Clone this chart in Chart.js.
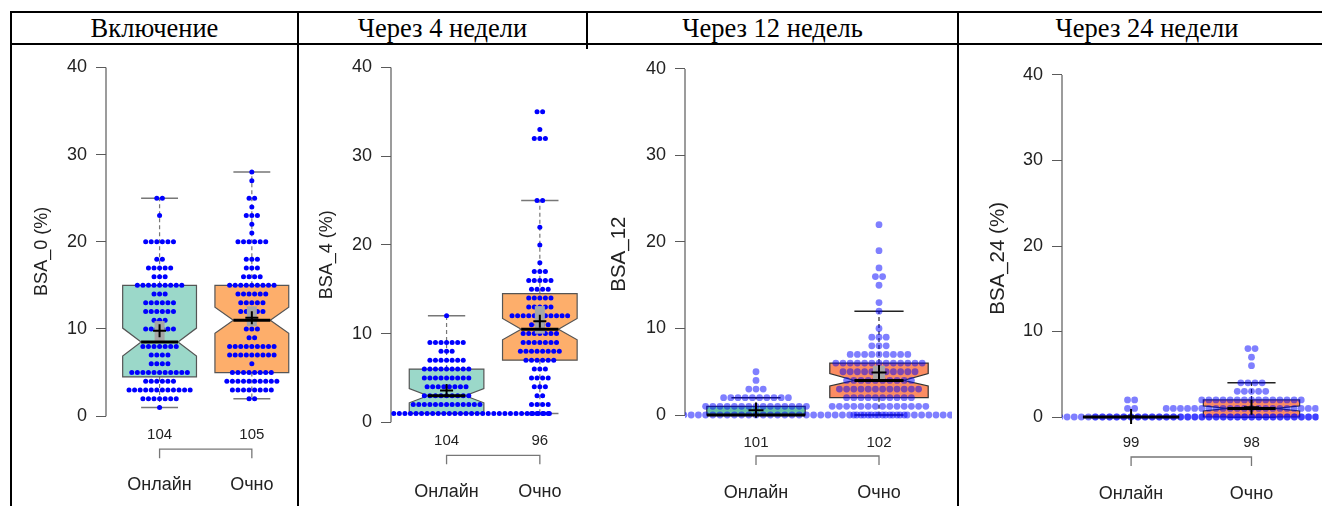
<!DOCTYPE html>
<html>
<head>
<meta charset="utf-8">
<script src="https://cdn.jsdelivr.net/npm/chart.js@4.4.1/dist/chart.umd.min.js"></script>
<style>
    html, body { margin: 0; padding: 0; background: #fff; }
    body { width: 1322px; height: 506px; position: relative; overflow: hidden; }
    .rule { position: absolute; background: #000; z-index: 2; }
    .head {
        position: absolute; top: 13px; height: 30px; line-height: 30px; text-align: center;
        font-family: "Liberation Serif", "Times New Roman", serif; font-size: 26.5px; color: #000;
    }
    canvas { position: absolute; }
</style>
</head>
<body>
<div class="rule" style="left:10px; top:11px; width:1312px; height:2px"></div>
<div class="rule" style="left:10px; top:43px; width:1312px; height:2px"></div>
<div class="rule" style="left:10px; top:11px; width:2px; height:495px"></div>
<div class="rule" style="left:297px; top:11px; width:2px; height:495px"></div>
<div class="rule" style="left:586px; top:11px; width:2px; height:38px"></div>
<div class="rule" style="left:957px; top:11px; width:2px; height:495px"></div>

<script>
// ---- data ----
var titles = ["Включение", "Через 4 недели", "Через 12 недель", "Через 24 недели"];
var groups = ["Онлайн", "Очно"];
var yTitles = ["BSA_0 (%)", "BSA_4 (%)", "BSA_12", "BSA_24 (%)"];
var yTicks = [0, 10, 20, 30, 40];
var groupN = [[104, 105], [104, 96], [101, 102], [99, 98]];

// dots: [value, number of patients]
var bsa0Online = [[25,2],[23,1],[20,6],[18,2],[17,5],[16,3],[15,9],[14,3],[13,6],[12,6],[11,3],[10,6],[8,7],[7,4],[6,4],[5,11],[4,6],[3,12],[2,7],[1,1]];
var bsa0Ochno = [[28,1],[27,1],[25,2],[24,1],[23,3],[22,1],[21,1],[20,6],[18,3],[17,3],[16,4],[15,9],[14,6],[13,5],[12,5],[11,2],[10,3],[9,2],[8,9],[7,9],[6,1],[5,8],[4,10],[3,8],[2,2]];
var bsa4Online = [[12,1],[9,7],[8,3],[7,7],[6,9],[5,9],[4,8],[3,9],[2,13],[1,38]];
var bsa4Ochno = [[35,2],[33,1],[32,3],[25,2],[22,1],[20,1],[18,1],[17,3],[16,5],[15,4],[14,5],[13,5],[12,11],[11,4],[10,7],[9,7],[8,8],[7,6],[6,3],[5,4],[4,3],[3,2],[2,4],[1,4]];
var bsa12Online = [[5,1],[4,1],[3,3],[2,10],[1,15],[0,71]];
var bsa12Ochno = [[22,1],[19,1],[17,1],[16,2],[15,1],[13,1],[12,1],[10,1],[9,3],[8,3],[7,9],[6,13],[5,11],[4,10],[3,12],[2,10],[1,14],[0,8]];
var bsa24Online = [[2,2],[1,2],[0,95]];
var bsa24Ochno = [[8,2],[7,1],[6,1],[4,4],[3,5],[2,15],[1,25],[0,45]];

// boxes: [whisker low, q1, notch low, median, notch high, q3, whisker high, mean, mean ci low, mean ci high]
var bsa0OnlineBox = [1, 4.5, 6.9, 8.5, 10.1, 15, 25, 9.8, 8.6, 10.9];
var bsa0OchnoBox = [2, 5, 9.5, 11, 12.5, 15, 28, 11.3, 10.3, 12.6];
var bsa4OnlineBox = [1, 1, 2.2, 3, 3.8, 6, 12, 3.6, null, null];
var bsa4OchnoBox = [1, 7, 9.3, 10.5, 11.7, 14.5, 25, 11.4, 10.0, 13.1];
var bsa12OnlineBox = [0, 0, null, 0, null, 1, 2, 0.54, null, null];
var bsa12OchnoBox = [0, 2, 3.35, 4, 4.8, 6, 12, 4.9, 4.1, 5.7];
var bsa24OnlineBox = [0, 0, null, 0, null, 0, 0, 0.06, null, null];
var bsa24OchnoBox = [0, 0, 0.7, 1, 1.3, 2, 4, 1.15, null, null];

// ---- layout ----
var CANVAS_TOP = 45, CANVAS_H = 461;
var BOX_HALF = 0.4;

var panels = [
    { rows: [bsa0Online, bsa0Ochno], boxes: [bsa0OnlineBox, bsa0OchnoBox],
      left: 12, width: 285, axisX: 106, plotRight: 296, cx: [160, 253], y0: 416, y40: 65,
      yMin: -2.5, yMax: 40.3, titleX: 42, titleSize: 18, nOff: 19, gOff: 69, brOff: 33,
      dotStep: 5.6, dotR: 2.5, dotColor: "#0000ff", fills: ["#9bd8c9", "#fdae6b"],
      edge: "#555", whisk: "#777", cross: 6.5, ciHalf: 5 },
    { rows: [bsa4Online, bsa4Ochno], boxes: [bsa4OnlineBox, bsa4OchnoBox],
      left: 299, width: 287, axisX: 391, plotRight: 585, cx: [447, 541], y0: 422, y40: 62,
      yMin: -2.5, yMax: 40.3, titleX: 327, titleSize: 18, nOff: 18.7, gOff: 69.7, brOff: 33,
      dotStep: 5.6, dotR: 2.5, dotColor: "#0000ff", fills: ["#9bd8c9", "#fdae6b"],
      edge: "#555", whisk: "#777", cross: 6.5, ciHalf: 5 },
    { rows: [bsa12Online, bsa12Ochno], boxes: [bsa12OnlineBox, bsa12OchnoBox],
      left: 588, width: 369, axisX: 685, plotRight: 952, cx: [756, 879], y0: 415, y40: 69,
      yMin: -3.1, yMax: 40.3, titleX: 619, titleSize: 20.5, nOff: 27.7, gOff: 78.3, brOff: 41,
      dotStep: 7.2, dotR: 3.4, dotColor: "rgba(0,0,255,0.5)", fills: ["#66c2a5", "#fc8d62"],
      edge: "#333", whisk: "#222", cross: 7.5, ciHalf: 6 },
    { rows: [bsa24Online, bsa24Ochno], boxes: [bsa24OnlineBox, bsa24OchnoBox],
      left: 959, width: 363, axisX: 1062, plotRight: 1322, cx: [1132, 1254], y0: 417, y40: 75,
      yMin: -3.2, yMax: 40.3, titleX: 998, titleSize: 20.5, nOff: 26.3, gOff: 77, brOff: 40,
      dotStep: 7.2, dotR: 3.4, dotColor: "rgba(0,0,255,0.5)", fills: ["#66c2a5", "#fc8d62"],
      edge: "#333", whisk: "#222", cross: 7.5, ciHalf: 6 }
];

var cells = [[12, 297], [299, 586], [588, 957], [959, 1335]];
titles.forEach(function (t, i) {
    var d = document.createElement("div");
    d.className = "head";
    d.style.left = cells[i][0] + "px";
    d.style.width = (cells[i][1] - cells[i][0]) + "px";
    d.textContent = t;
    document.body.appendChild(d);
});

Chart.defaults.font.family = '"Liberation Sans", Arial, sans-serif';
Chart.defaults.color = "#222";

// rows of dots centred on the group, one row per value
function swarm(rows, center, step) {
    var pts = [];
    rows.forEach(function (row) {
        var n = row[1];
        for (var i = 0; i < n; i++) {
            pts.push({ x: center + (i - (n - 1) / 2) * step, y: row[0] });
        }
    });
    return pts;
}

function boxPlugin(p, idx) {
    return {
        id: "boxes" + idx,
        beforeDatasetsDraw: function (chart) {
            var ctx = chart.ctx, xs = chart.scales.x, ys = chart.scales.y;
            var Y = function (v) { return ys.getPixelForValue(v); };
            ctx.save();
            // axis line from first to last tick, R style
            ctx.strokeStyle = "#5a5a5a";
            ctx.lineWidth = 1.2;
            ctx.beginPath();
            ctx.moveTo(chart.chartArea.left, Y(yTicks[0]));
            ctx.lineTo(chart.chartArea.left, Y(yTicks[yTicks.length - 1]));
            ctx.stroke();

            // bracket under the counts
            var by = Y(0) + p.brOff;
            var xa = xs.getPixelForValue(1), xb = xs.getPixelForValue(2);
            ctx.strokeStyle = "#777";
            ctx.lineWidth = 1.3;
            ctx.beginPath();
            ctx.moveTo(xa, by + 9); ctx.lineTo(xa, by); ctx.lineTo(xb, by); ctx.lineTo(xb, by + 9);
            ctx.stroke();

            p.boxes.forEach(function (b, g) {
                var c = xs.getPixelForValue(g + 1);
                var l = xs.getPixelForValue(g + 1 - BOX_HALF), r = xs.getPixelForValue(g + 1 + BOX_HALF);
                var hw = r - c;
                // whiskers
                ctx.strokeStyle = p.whisk;
                ctx.lineWidth = 1.2;
                ctx.setLineDash([4, 3]);
                ctx.beginPath();
                ctx.moveTo(c, Y(b[5])); ctx.lineTo(c, Y(b[6]));
                ctx.moveTo(c, Y(b[1])); ctx.lineTo(c, Y(b[0]));
                ctx.stroke();
                ctx.setLineDash([]);
                ctx.lineWidth = 1.5;
                ctx.beginPath();
                ctx.moveTo(c - hw / 2, Y(b[6])); ctx.lineTo(c + hw / 2, Y(b[6]));
                ctx.moveTo(c - hw / 2, Y(b[0])); ctx.lineTo(c + hw / 2, Y(b[0]));
                ctx.stroke();
                // box, notched when notch limits are given
                ctx.beginPath();
                if (b[2] === null) {
                    ctx.rect(l, Y(b[5]), r - l, Y(b[1]) - Y(b[5]));
                } else {
                    ctx.moveTo(l, Y(b[5])); ctx.lineTo(r, Y(b[5]));
                    ctx.lineTo(r, Y(b[4])); ctx.lineTo(c + hw / 2, Y(b[3])); ctx.lineTo(r, Y(b[2]));
                    ctx.lineTo(r, Y(b[1])); ctx.lineTo(l, Y(b[1]));
                    ctx.lineTo(l, Y(b[2])); ctx.lineTo(c - hw / 2, Y(b[3])); ctx.lineTo(l, Y(b[4]));
                    ctx.closePath();
                }
                ctx.fillStyle = p.fills[g];
                ctx.fill();
                ctx.strokeStyle = p.edge;
                ctx.lineWidth = 1.2;
                ctx.stroke();
            });
            ctx.restore();
        },
        afterDatasetsDraw: function (chart) {
            var ctx = chart.ctx, xs = chart.scales.x, ys = chart.scales.y;
            var Y = function (v) { return ys.getPixelForValue(v); };
            ctx.save();
            p.boxes.forEach(function (b, g) {
                var c = xs.getPixelForValue(g + 1);
                var hw = xs.getPixelForValue(g + 1 + BOX_HALF) - c;
                var mw = b[2] === null ? hw : hw / 2;
                // mean confidence band
                if (b[8] !== null) {
                    ctx.fillStyle = "#a6a6a6";
                    ctx.fillRect(c - p.ciHalf, Y(b[9]), p.ciHalf * 2, Y(b[8]) - Y(b[9]));
                }
                // median
                ctx.strokeStyle = "#000";
                ctx.lineWidth = 3;
                ctx.beginPath();
                ctx.moveTo(c - mw, Y(b[3])); ctx.lineTo(c + mw, Y(b[3]));
                ctx.stroke();
                // mean
                ctx.lineWidth = 2;
                ctx.beginPath();
                ctx.moveTo(c - p.cross, Y(b[7])); ctx.lineTo(c + p.cross, Y(b[7]));
                ctx.moveTo(c, Y(b[7]) - p.cross); ctx.lineTo(c, Y(b[7]) + p.cross);
                ctx.stroke();
            });
            ctx.restore();
        }
    };
}

panels.forEach(function (p, k) {
    var canvas = document.createElement("canvas");
    canvas.width = p.width;
    canvas.height = CANVAS_H;
    canvas.style.left = p.left + "px";
    canvas.style.top = CANVAS_TOP + "px";
    document.body.appendChild(canvas);

    var d = p.cx[1] - p.cx[0];
    var xMin = 1 - (p.cx[0] - p.axisX) / d;
    var xMax = 2 + (p.plotRight - p.cx[1]) / d;
    var ppu = (p.y0 - p.y40) / 40;
    var top = p.y0 - p.yMax * ppu - CANVAS_TOP;
    var bottom = p.y0 - p.yMin * ppu - CANVAS_TOP;
    var step = p.dotStep / d;
    var twoTicks = function (s) { s.ticks = [{ value: 1 }, { value: 2 }]; };

    // the label rows hang below the zero line; the gap is made with invisible tick marks
    // so that ticks.padding does not eat into the plot width
    var labelAxis = function (size, offset, texts) {
        return {
            type: "linear", axis: "x", position: { y: 0 }, min: xMin, max: xMax,
            afterBuildTicks: twoTicks,
            ticks: {
                callback: function (v, i) { return String(texts[i]); },
                font: { size: size }, color: "#222", padding: 0,
                maxRotation: 0, minRotation: 0, autoSkip: false
            },
            grid: { display: true, drawOnChartArea: false, drawTicks: true, color: "rgba(0,0,0,0)",
                    tickLength: offset - size * 0.6 },
            border: { display: false }
        };
    };

    new Chart(canvas, {
        type: "scatter",
        data: {
            datasets: p.rows.map(function (rows, g) {
                return {
                    label: groups[g],
                    data: swarm(rows, g + 1, step),
                    pointRadius: p.dotR,
                    pointHoverRadius: p.dotR,
                    backgroundColor: p.dotColor,
                    borderWidth: 0,
                    clip: { left: 0, right: 0, top: 30, bottom: 30 }
                };
            })
        },
        options: {
            responsive: false,
            animation: false,
            events: [],
            devicePixelRatio: 1,
            layout: {
                padding: { left: 0, right: p.width - (p.plotRight - p.left), top: top, bottom: CANVAS_H - bottom }
            },
            plugins: { legend: { display: false }, tooltip: { enabled: false } },
            scales: {
                x: labelAxis(15, p.nOff, groupN[k]),
                x2: labelAxis(18, p.gOff, groups),
                y: {
                    type: "linear", min: p.yMin, max: p.yMax,
                    afterBuildTicks: function (s) { s.ticks = yTicks.map(function (v) { return { value: v }; }); },
                    afterFit: function (s) { s.width = p.axisX - p.left; },
                    ticks: { font: { size: 18 }, color: "#222", padding: 9 },
                    grid: { drawOnChartArea: false, drawTicks: true, tickLength: 10, color: "#5a5a5a", lineWidth: 1 },
                    border: { display: false },
                    title: {
                        display: true, text: yTitles[k], color: "#222",
                        font: { size: p.titleSize },
                        padding: { top: p.titleX - p.left - p.titleSize * 0.6, bottom: 0 }
                    }
                }
            }
        },
        plugins: [boxPlugin(p, k)]
    });
});
</script>
</body>
</html>
